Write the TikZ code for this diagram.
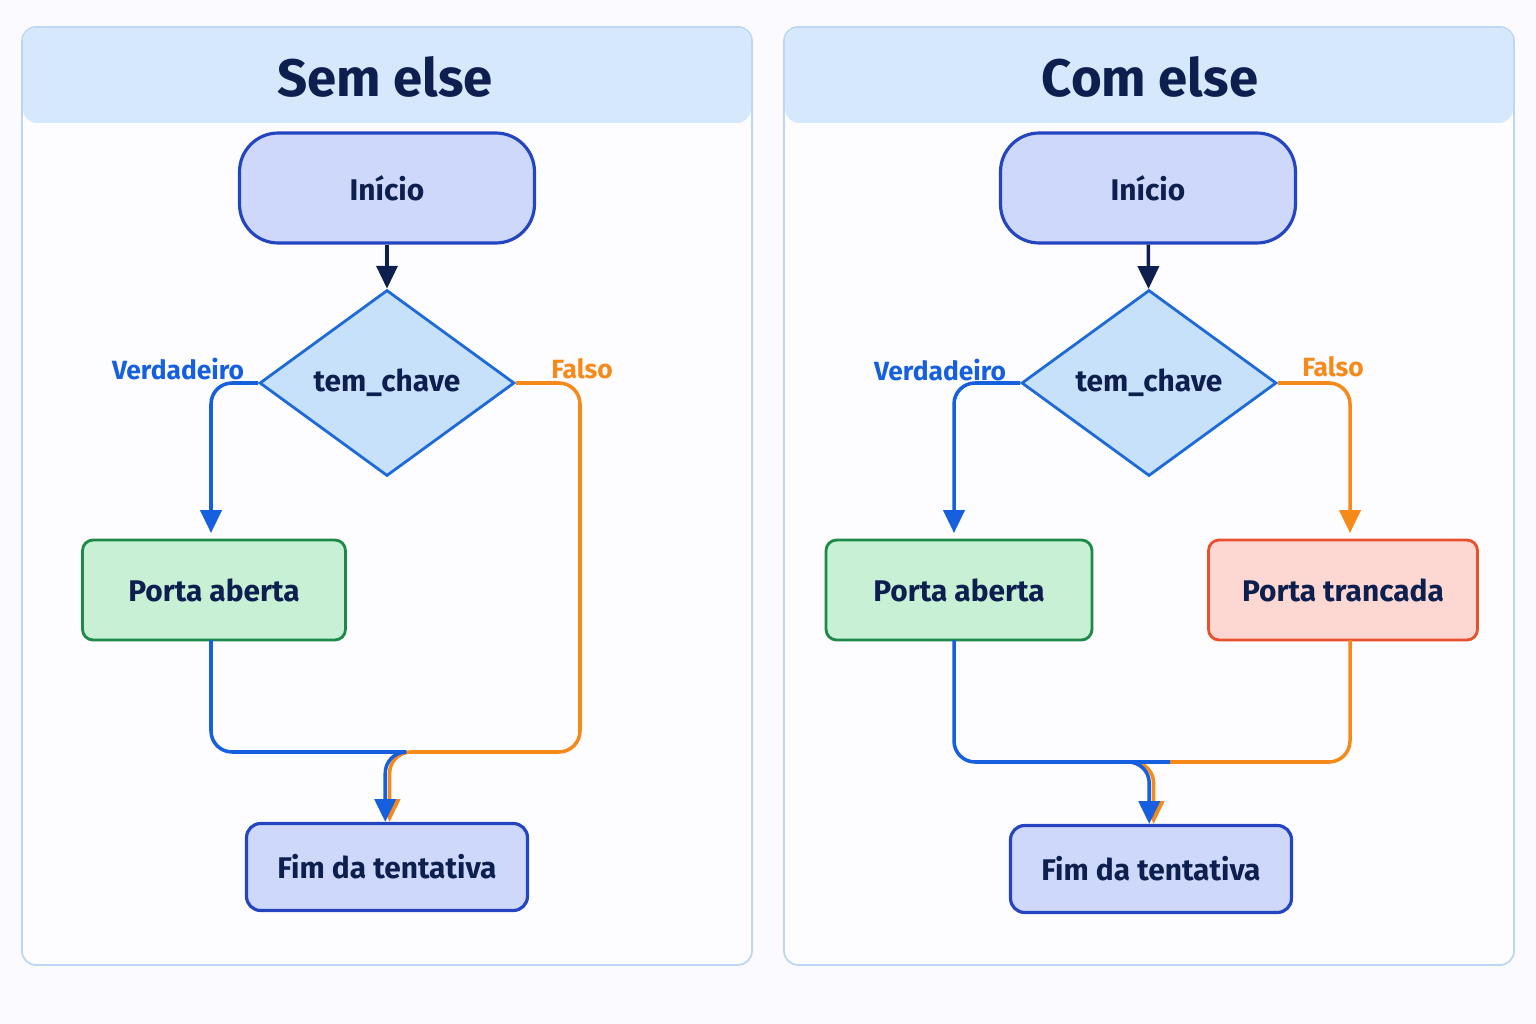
\documentclass[tikz,border=0pt]{standalone}
\usepackage{fontspec}
\setmainfont{Fira Sans}
\usetikzlibrary{shapes.geometric,arrows.meta}
\definecolor{navy}{HTML}{0D1F4F}
\definecolor{panelline}{HTML}{BBD7F5}
\definecolor{headfill}{HTML}{D6E8FC}
\definecolor{startfill}{HTML}{CDD8FB}
\definecolor{startline}{HTML}{2444C0}
\definecolor{decfill}{HTML}{C8E1FA}
\definecolor{decline}{HTML}{1E6AD8}
\definecolor{okfill}{HTML}{C8F0D4}
\definecolor{okline}{HTML}{1E8A4A}
\definecolor{nofill}{HTML}{FDD8D3}
\definecolor{noline}{HTML}{E8502E}
\definecolor{truec}{HTML}{1660E0}
\definecolor{falsec}{HTML}{F58A1A}
\tikzset{
  every node/.style={text=navy,font=\fontsize{17}{20}\selectfont\bfseries},
  start/.style={draw=startline,fill=startfill,line width=1.8pt,rounded corners=22pt,minimum width=5.9cm,minimum height=2.2cm},
  dec/.style={diamond,aspect=1.37,draw=decline,fill=decfill,line width=1.6pt,inner sep=0pt,minimum width=5.1cm,minimum height=3.72cm},
  proc/.style={line width=1.6pt,rounded corners=6pt,minimum height=2cm},
  fim/.style={draw=startline,fill=startfill,line width=1.8pt,rounded corners=8pt,minimum width=5.62cm,minimum height=1.74cm},
  panel/.style={draw=panelline,line width=1pt,fill=white!60!blue!2,rounded corners=8pt},
  tarrow/.style={truec,line width=2pt,rounded corners=12pt,-{Triangle[length=13pt,width=12pt]}},
  farrow/.style={falsec,line width=2pt,rounded corners=12pt,-{Triangle[length=13pt,width=12pt]}},
  darrow/.style={navy,line width=2pt,-{Triangle[length=13pt,width=12pt]}},
  lab/.style={font=\fontsize{15}{18}\selectfont\bfseries},
  title/.style={font=\fontsize{30}{34}\selectfont\bfseries}
}
\begin{document}
\begin{tikzpicture}[x=0.02cm,y=-0.02cm]
\fill[blue!2] (0,0) rectangle (1536,1024);
\useasboundingbox (0,0) rectangle (1536,1024);
% panels
\foreach \x in {22,784}{
  \draw[panel] (\x,27) rectangle ++(730,938);
  \fill[headfill,rounded corners=8pt] (\x+1,28) rectangle ++(728,95);
}
\node[title] (t1) at (385,77) {Sem else};
\node[title] (t2) at (1150,77) {Com else};
% left flow
\node[start] (start1) at (387,188) {Início};
\node[dec] (dec1) at (387,383) {tem\_chave};
\node[proc,draw=okline,fill=okfill,minimum width=5.26cm] (open1) at (214,590) {Porta aberta};
\node[fim] (end1) at (387,867) {Fim da tentativa};
\coordinate (m1) at (387,752);
\draw[darrow] (start1) -- (dec1);
\draw[tarrow] (dec1.west) -| (211,533);
\draw[farrow] (dec1.east) -| (580,752) -| ([xshift=1.5pt]end1.north);
\draw[tarrow] (211,640) |- (m1) -| ([xshift=-1pt]end1.north);
\node[lab,text=truec] (v1) at (178,369) {Verdadeiro};
\node[lab,text=falsec] (f1) at (582,369) {Falso};
% right flow
\node[start] (start2) at (1148,188) {Início};
\node[dec] (dec2) at (1149,383) {tem\_chave};
\node[proc,draw=okline,fill=okfill,minimum width=5.32cm] (open2) at (959,590) {Porta aberta};
\node[proc,draw=noline,fill=nofill,minimum width=5.38cm] (lock2) at (1343,590) {Porta trancada};
\node[fim] (end2) at (1151,869) {Fim da tentativa};
\coordinate (m2) at (1149,762);
\draw[darrow] (start2) -- (dec2);
\draw[tarrow] (dec2.west) -| (954,533);
\draw[farrow] (dec2.east) -| (1350,533);
\draw[farrow] (1350,640) |- (m2) -| ([xshift=1.5pt]end2.north);
\draw[tarrow] (954,640) |- (m2) -| ([xshift=-1pt]end2.north);
\node[lab,text=truec] (v2) at (940,370) {Verdadeiro};
\node[lab,text=falsec] (f2) at (1333,367) {Falso};
\end{tikzpicture}
\end{document}
